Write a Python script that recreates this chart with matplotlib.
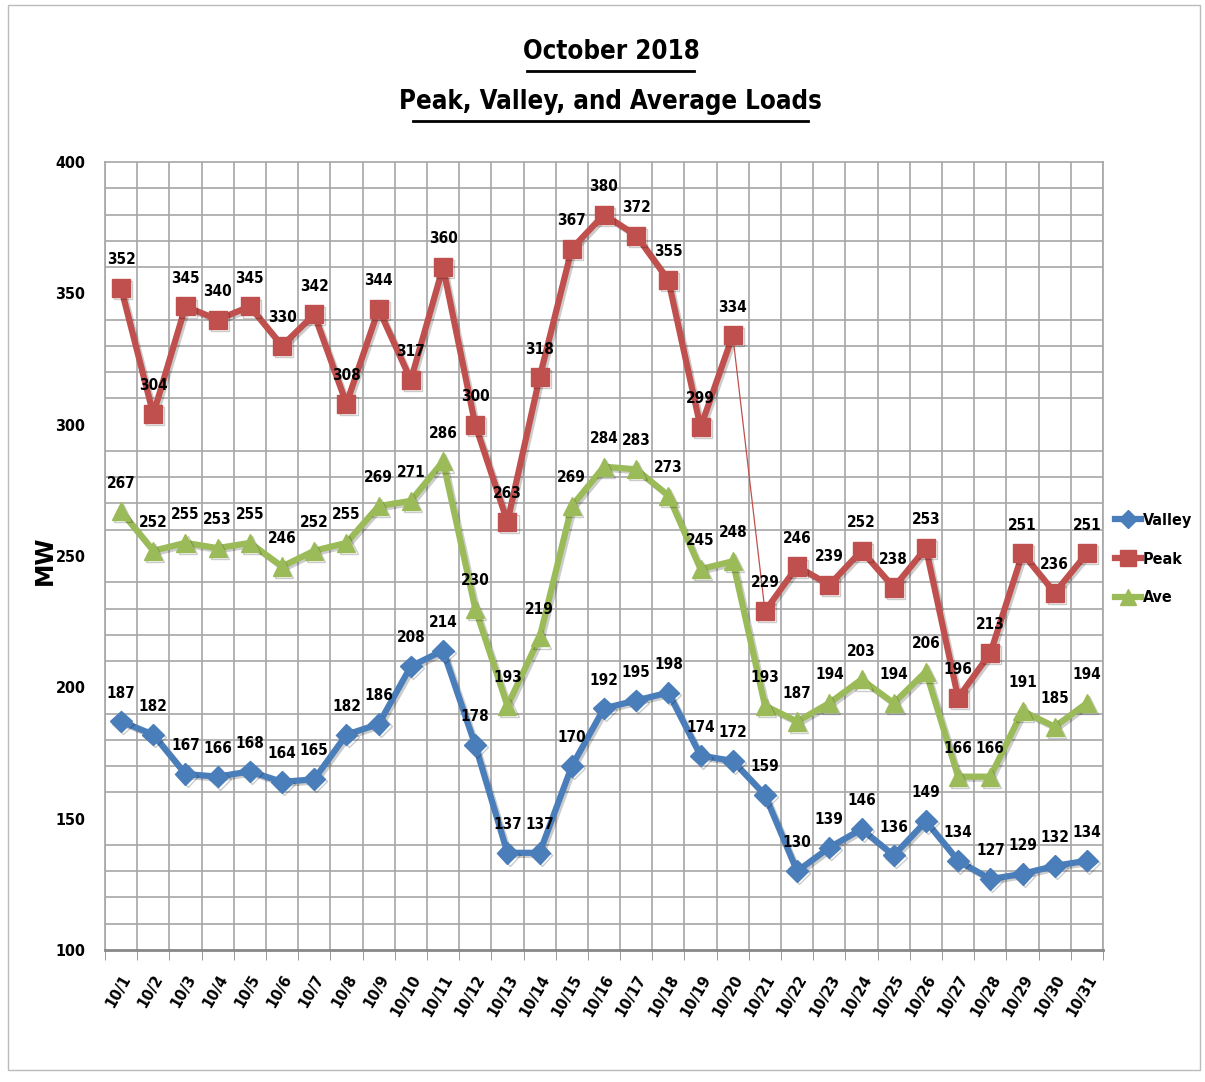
import matplotlib
matplotlib.use("Agg")
import matplotlib.pyplot as plt
import numpy as np
from matplotlib import font_manager
from matplotlib.font_manager import FontProperties
import matplotlib.patheffects as pe
from matplotlib.lines import Line2D

days = [f"10/{d}" for d in range(1, 32)]
peak = [352, 304, 345, 340, 345, 330, 342, 308, 344, 317, 360, 300, 263, 318, 367, 380,
        372, 355, 299, 334, 229, 246, 239, 252, 238, 253, 196, 213, 251, 236, 251]
ave = [267, 252, 255, 253, 255, 246, 252, 255, 269, 271, 286, 230, 193, 219, 269, 284,
       283, 273, 245, 248, 193, 187, 194, 203, 194, 206, 166, 166, 191, 185, 194]
valley = [187, 182, 167, 166, 168, 164, 165, 182, 186, 208, 214, 178, 137, 137, 170, 192,
          195, 198, 174, 172, 159, 130, 139, 146, 136, 149, 134, 127, 129, 132, 134]

# find a narrow bold font
narrow = None
for f in font_manager.fontManager.ttflist:
    fn = f.fname.lower()
    if ('narrow' in fn or 'condensed' in fn) and 'bold' in fn and 'italic' not in fn and 'oblique' not in fn:
        if narrow is None or 'liberationsansnarrow' in fn:
            narrow = f.fname
if narrow:
    def FP(size):
        return FontProperties(fname=narrow, size=size)
else:
    def FP(size):
        return FontProperties(family=['Liberation Sans', 'DejaVu Sans'], weight='bold', size=size * 0.9)

C_V = '#4A7EBB'
C_P = '#C0504D'
C_A = '#9BBB59'

fig = plt.figure(figsize=(12.05, 10.82), dpi=100)
ax = fig.add_axes([105/1205, 1 - 950/1082, (1103-105)/1205, (950-162)/1082])

x = np.arange(len(days))
shadow = [pe.SimpleLineShadow(offset=(1.5, -1.5), alpha=0.2), pe.Normal()]
lw = 4.5

ax.plot(x, valley, color=C_V, lw=lw, marker='D', ms=11, path_effects=shadow, zorder=3)
ax.plot(x, ave, color=C_A, lw=lw, marker='^', ms=13, path_effects=shadow, zorder=3)
brk = 20
ax.plot(x[:brk], peak[:brk], color=C_P, lw=lw, marker='s', ms=13, path_effects=shadow, zorder=3)
ax.plot(x[brk-1:brk+1], peak[brk-1:brk+1], color=C_P, lw=0.9, zorder=3)
ax.plot(x[brk:], peak[brk:], color=C_P, lw=lw, marker='s', ms=13, path_effects=shadow, zorder=3)

for series in (valley, peak, ave):
    for xi, v in zip(x, series):
        ax.annotate(str(v), (xi, v), xytext=(0, 15), textcoords='offset points',
                    ha='center', va='bottom', fontproperties=FP(11), zorder=4)

ax.set_xlim(-0.5, len(days) - 0.5)
ax.set_ylim(100, 400)
ax.set_yticks([100, 150, 200, 250, 300, 350, 400])
ax.set_yticks(np.arange(100, 401, 10), minor=True)
ax.set_xticks(x)
ax.set_xticklabels(days, rotation=60, ha='right', rotation_mode='anchor')
for lab in ax.get_xticklabels():
    lab.set_fontproperties(FP(11.5))
ax.set_xticks(np.arange(-0.5, len(days), 1), minor=True)
ax.tick_params(axis='x', which='major', length=0, pad=16)
ax.tick_params(axis='x', which='minor', length=7, color='#888888')
ax.tick_params(axis='y', which='both', length=0, pad=14)
for lab in ax.get_yticklabels():
    lab.set_fontproperties(FP(11.5))
ax.grid(True, which='minor', axis='both', color='#A6A6A6', lw=1.2)
ax.grid(False, which='major')
ax.set_axisbelow(True)
for s in ax.spines.values():
    s.set_color('#A6A6A6'); s.set_linewidth(1.2)
ax.spines['bottom'].set_color('#888888'); ax.spines['bottom'].set_linewidth(2)

fig.text(45/1205, 1 - 560/1082, 'MW', rotation=90, ha='center', va='center',
         fontsize=17, fontweight='bold', family=['DejaVu Sans'])

fig.text(0.507, 1 - 52/1082, 'October 2018', ha='center', va='center', fontproperties=FP(18.5))
fig.text(0.507, 1 - 102/1082, 'Peak, Valley, and Average Loads', ha='center', va='center', fontproperties=FP(18.5))
fig.add_artist(Line2D([527/1205, 694/1205], [1 - 71/1082, 1 - 71/1082], color='black', lw=2))
fig.add_artist(Line2D([413/1205, 808/1205], [1 - 121/1082, 1 - 121/1082], color='black', lw=2))

handles = [Line2D([], [], color=C_V, lw=lw, marker='D', ms=9),
           Line2D([], [], color=C_P, lw=lw, marker='s', ms=11),
           Line2D([], [], color=C_A, lw=lw, marker='^', ms=11)]
fig.legend(handles, ['Valley', 'Peak', 'Ave'], loc='center left',
           bbox_to_anchor=(1115/1205, 1 - 559/1082), frameon=False, handlelength=1.6,
           handletextpad=0.15, labelspacing=1.5, prop=FP(11.5), borderpad=0, borderaxespad=0)

fig.add_artist(plt.Rectangle((8/1205, 12/1082), (1200-8)/1205, (1077-12)/1082,
                             fill=False, edgecolor='#BBBBBB', lw=1, transform=fig.transFigure))

fig.savefig('out.png', dpi=100)
